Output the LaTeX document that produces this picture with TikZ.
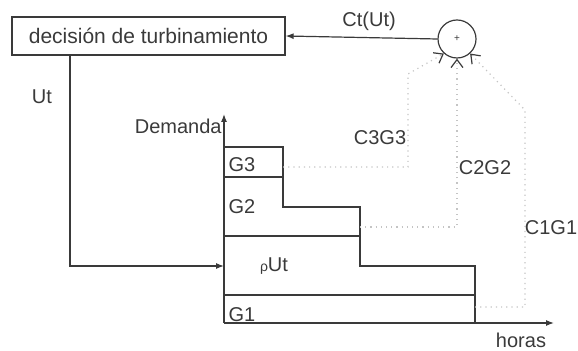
\documentclass[tikz,border=0pt]{standalone}
\usepackage{fontspec}
\setmainfont{Liberation Sans}
\usetikzlibrary{arrows.meta,positioning,calc}
\definecolor{ink}{HTML}{3A3A3A}
\definecolor{faint}{HTML}{C4C4C4}
\tikzset{
block/.style={draw=ink,line width=.6pt,minimum width=136.5pt,minimum height=19pt,inner sep=2pt,font=\fontsize{10.5}{12}\selectfont,text=ink},
sumnode/.style={draw=ink,circle,line width=.6pt,minimum size=19pt,inner sep=0pt,font=\tiny,text=ink},
flow/.style={-{Latex[length=4pt,width=3pt]},line width=.6pt,draw=ink},
stair/.style={draw=ink,line width=.6pt},
feed/.style={-{Straight Barb[length=4pt,width=6pt,color=ink,line width=.6pt]},draw=faint,dotted,line width=.6pt},
tag/.style={font=\fontsize{10}{12}\selectfont,text=ink,inner sep=1pt}}
\begin{document}
\begin{tikzpicture}[x=0.5pt,y=-0.5pt]
\useasboundingbox (0,0) rectangle (578,351);
% decision loop
\node[block] (decision) at (148.5,36) {decisión de turbinamiento};
\node[sumnode] (sum) at (457,39) {+};
\draw[flow] (sum.west) -- node[tag,pos=.45,above=2pt] {Ct(Ut)} (decision.east);
% demand axes
\coordinate (origin) at (224,323);
\coordinate (ytop) at (224,114);
\coordinate (xend) at (554,323);
\draw[flow] (origin) -- (ytop);
\draw[flow] (origin) -- (xend);
\node[tag,left=0pt of ytop,yshift=-6pt] (demand) {Demanda};
\node[tag] (hours) at (521,340) {horas};
% stairs of generation
\draw[stair] (224,147) -| (283,207) -| (360,266) -| (475,323);
\draw[stair] (224,177) -- (283,177) (224,236) -- (360,236) (224,295) -- (475,295);
\node[tag] (g3) at (242,165) {G3};
\node[tag] (g2) at (242,207) {G2};
\node[tag] (rut) at (274,266) {{\scriptsize ρ}Ut};
\node[tag] (g1) at (242,315) {G1};
% turbined volume into the load curve
\coordinate (utbend) at (70,266);
\coordinate (ut) at (224,266);
\draw[flow] (decision.south -| utbend) -- (utbend) -- (ut);
\node[tag] (utlabel) at (42,97) {Ut};
% costs back to the sum
\coordinate (g3out) at (283,167);
\coordinate (g2out) at (360,227);
\coordinate (g1out) at (475,307);
\draw[feed] (g3out) -- (408,167) -- (408,74) -- (sum.228);
\draw[feed] (g2out) -| (sum.south);
\draw[feed] (g1out) -- (525,307) -- (525,110) -- (sum.312);
\node[tag] (c3g3) at (380,138) {C3G3};
\node[tag] (c2g2) at (485,168) {C2G2};
\node[tag] (c1g1) at (551,228) {C1G1};
\end{tikzpicture}
\end{document}
